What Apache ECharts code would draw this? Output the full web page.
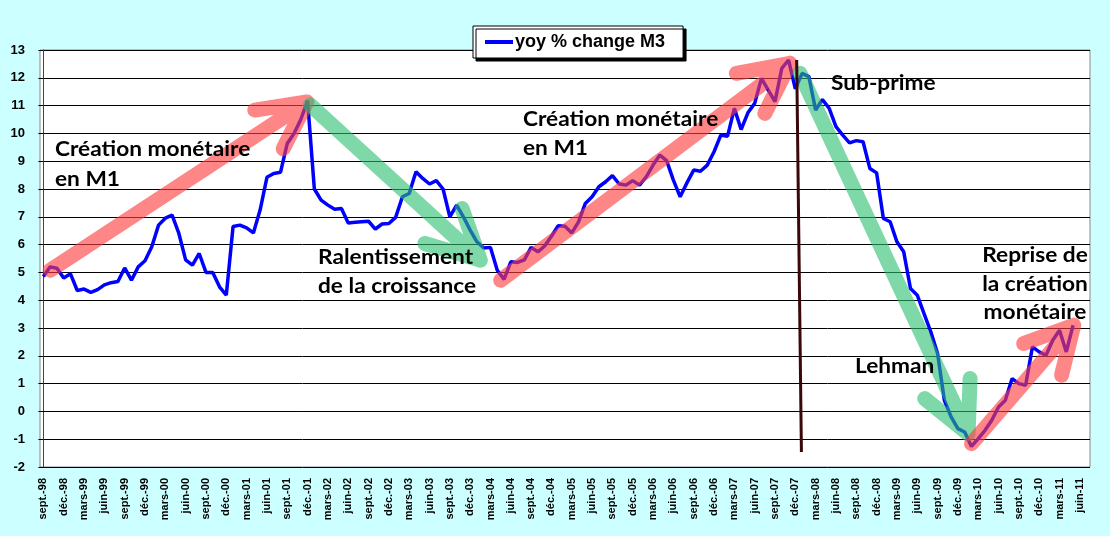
<!DOCTYPE html>
<html>
<head>
<meta charset="utf-8">
<script src="https://cdn.jsdelivr.net/npm/echarts@6/dist/echarts.min.js"></script>
<style>
  html, body { margin: 0; padding: 0; background: #CCFFFF; }
  #chart { width: 1110px; height: 536px; }
</style>
</head>
<body>
<div id="chart"></div>
<script>
// month names used for the category labels (sept.-98 ... juil.-11)
const monthNames = ['janv.', 'févr.', 'mars', 'avr.', 'mai', 'juin', 'juil.', 'août', 'sept.', 'oct.', 'nov.', 'déc.'];
const firstYear = 1998;
const firstMonth = 8;   // sept.
const monthCount = 155;

// yoy % change M3, monthly from sept.-98
const m3Values = [
  4.85, 5.2, 5.15, 4.8, 4.95, 4.35, 4.4, 4.28, 4.38, 4.55, 4.63, 4.67,
  5.16, 4.72, 5.2, 5.42, 5.92, 6.7, 6.95, 7.06, 6.4, 5.45, 5.26, 5.68,
  5.0, 5.0, 4.48, 4.18, 6.65, 6.7, 6.6, 6.42, 7.25, 8.42, 8.56, 8.6,
  9.64, 10.0, 10.5, 11.18, 8.0, 7.6, 7.42, 7.27, 7.3, 6.78, 6.8, 6.82,
  6.84, 6.56, 6.74, 6.76, 6.98, 7.72, 7.84, 8.62, 8.38, 8.18, 8.3, 8.0,
  7.0, 7.42, 7.0, 6.52, 6.1, 5.88, 5.9, 5.08, 4.75, 5.38, 5.36, 5.45,
  5.9, 5.74, 5.95, 6.3, 6.68, 6.66, 6.42, 6.82, 7.48, 7.72, 8.08, 8.26,
  8.48, 8.18, 8.14, 8.3, 8.14, 8.44, 8.86, 9.22, 9.02, 8.32, 7.72, 8.22,
  8.68, 8.64, 8.86, 9.34, 9.94, 9.9, 10.9, 10.14, 10.74, 11.08, 11.98, 11.56,
  11.14, 12.34, 12.64, 11.6, 12.16, 12.04, 10.84, 11.22, 10.9, 10.24, 9.94, 9.66,
  9.74, 9.7, 8.74, 8.58, 6.94, 6.82, 6.1, 5.74, 4.42, 4.18, 3.52, 2.86,
  2.08, 0.4, -0.2, -0.62, -0.74, -1.26, -0.98, -0.68, -0.32, 0.16, 0.4, 1.18,
  1.0, 0.94, 2.32, 2.14, 2.02, 2.56, 2.92, 2.14, 3.1
];

// annotation arrows in (month index, value): start, tip, barb, tip, barb
const arrowUp1 = [[1.0, 5.08], [38.9, 11.13], [31.2, 10.84], [38.9, 11.13], [35.4, 9.45]];
const arrowDown1 = [[39.4, 11.02], [64.5, 5.44], [61.8, 7.3], [64.5, 5.44], [56.3, 6.04]];
const arrowUp2 = [[67.5, 4.72], [110.2, 12.52], [102.3, 12.16], [110.2, 12.52], [106.5, 10.72]];
const arrowDown2 = [[111.7, 12.16], [136.5, -0.8], [136.8, 1.18], [136.5, -0.8], [130.1, 0.46]];
const arrowUp3 = [[137.0, -1.16], [152.1, 3.1], [144.7, 2.44], [152.1, 3.1], [150.3, 1.3]];
const subprimeLine = [[111.2, 12.64], [111.9, -1.46]];

const categories = [];
for (let k = 0; k < monthCount; k++) {
  const m = (firstMonth + k) % 12;
  const y = firstYear + Math.floor((firstMonth + k) / 12);
  categories.push(monthNames[m] + '-' + String(y % 100).padStart(2, '0'));
}

const labelFont = 'Arial, "Liberation Sans", sans-serif';
const noteFont = 'bold 21px Lato, "Open Sans", sans-serif';
const red = 'rgba(255, 60, 60, 0.62)';
const green = 'rgba(40, 190, 110, 0.6)';

function arrowSeries(points, color) {
  return {
    type: 'line',
    xAxisIndex: 1,
    data: points,
    showSymbol: false,
    symbol: 'none',
    silent: true,
    z: 5,
    lineStyle: { color: color, width: 15, cap: 'round', join: 'round' },
    animation: false
  };
}

function note(text, x, y, align) {
  return {
    type: 'text',
    x: x,
    y: y,
    scaleX: 1.08,
    z: 100,
    style: {
      text: text,
      font: noteFont,
      fill: '#000',
      textAlign: align || 'left',
      textVerticalAlign: 'middle'
    }
  };
}

const chart = echarts.init(document.getElementById('chart'));
chart.setOption({
  backgroundColor: '#CCFFFF',
  animation: false,
  grid: {
    left: 40, right: 20, top: 50, bottom: 69,
    show: true, backgroundColor: '#fff', borderColor: '#888', borderWidth: 1
  },
  legend: {
    data: ['yoy % change M3'],
    left: 473, top: 26,
    padding: [7, 18, 7, 12],
    backgroundColor: '#fff',
    borderColor: '#000',
    borderWidth: 1,
    shadowColor: '#000',
    shadowBlur: 0,
    shadowOffsetX: 3,
    shadowOffsetY: 3,
    icon: 'rect',
    itemWidth: 28,
    itemHeight: 4,
    itemGap: 2,
    textStyle: { fontFamily: labelFont, fontWeight: 'bold', fontSize: 18, color: '#000', padding: [0, 0, 0, -3] }
  },
  xAxis: [{
    type: 'category',
    data: categories,
    boundaryGap: true,
    axisLine: { lineStyle: { color: '#000', width: 1 } },
    axisTick: { interval: 2, length: 5, lineStyle: { color: '#000' } },
    axisLabel: {
      interval: 2, rotate: 90, margin: 11,
      fontFamily: labelFont, fontWeight: 'bold', fontSize: 11, color: '#000'
    },
    splitLine: { show: false }
  }, {
    type: 'value',
    min: -0.5,
    max: monthCount - 0.5,
    show: false
  }],
  yAxis: {
    type: 'value',
    min: -2, max: 13, interval: 1,
    axisLine: { show: true, lineStyle: { color: '#444', width: 1 } },
    axisTick: { show: true, length: 5, lineStyle: { color: '#000' } },
    axisLabel: { margin: 15, fontFamily: labelFont, fontWeight: 'bold', fontSize: 13, color: '#000' },
    splitLine: { lineStyle: { color: '#000', width: 1 } }
  },
  series: [
    {
      name: 'yoy % change M3',
      type: 'line',
      data: m3Values,
      showSymbol: false,
      symbol: 'none',
      itemStyle: { color: '#0000FF' },
      lineStyle: { color: '#0000FF', width: 3.5 },
      z: 3
    },
    arrowSeries(arrowUp1, red),
    arrowSeries(arrowDown1, green),
    arrowSeries(arrowUp2, red),
    arrowSeries(arrowDown2, green),
    arrowSeries(arrowUp3, red),
    {
      type: 'line',
      xAxisIndex: 1,
      data: subprimeLine,
      showSymbol: false,
      symbol: 'none',
      silent: true,
      z: 6,
      lineStyle: { color: '#3a0808', width: 3 }
    }
  ],
  graphic: [
    note('Création monétaire', 55, 149),
    note('en M1', 55, 179),
    note('Ralentissement', 318, 257),
    note('de la croissance', 318, 286),
    note('Création monétaire', 523, 119),
    note('en M1', 523, 148),
    note('Sub-prime', 831, 83),
    note('Lehman', 855, 366),
    note('Reprise de', 1035, 255, 'center'),
    note('la création', 1035, 284, 'center'),
    note('monétaire', 1035, 312, 'center')
  ]
});
</script>
</body>
</html>
